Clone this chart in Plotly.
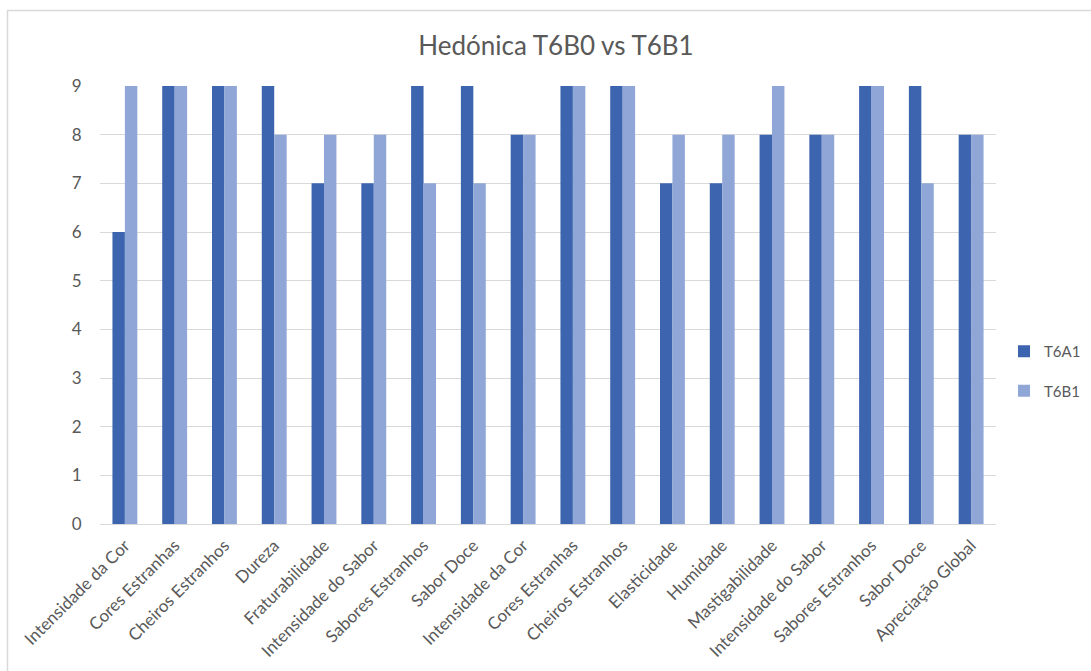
import plotly.graph_objects as go

categories = ["Intensidade da Cor", "Cores Estranhas", "Cheiros Estranhos", "Dureza",
              "Fraturabilidade", "Intensidade do Sabor", "Sabores Estranhos", "Sabor Doce",
              "Intensidade da Cor", "Cores Estranhas", "Cheiros Estranhos", "Elasticidade",
              "Humidade", "Mastigabilidade", "Intensidade do Sabor", "Sabores Estranhos",
              "Sabor Doce", "Apreciação Global"]
t6a1 = [6, 9, 9, 9, 7, 7, 9, 9, 8, 9, 9, 7, 7, 8, 8, 9, 9, 8]
t6b1 = [9, 9, 9, 8, 8, 8, 7, 7, 8, 9, 9, 8, 8, 9, 8, 9, 7, 8]
y_ticks = [0, 1, 2, 3, 4, 5, 6, 7, 8, 9]

xpos = list(range(len(categories)))
font_family = "Lato, 'Liberation Sans', sans-serif"
grey = "#595959"

fig = go.Figure()
fig.add_trace(go.Bar(x=xpos, y=t6a1, name="T6A1", legendgroup="a",
                     marker=dict(color="#3D64AE", line=dict(width=0))))
fig.add_trace(go.Bar(x=xpos, y=t6b1, name="T6B1", legendgroup="b",
                     marker=dict(color="#8FA6D6", line=dict(width=0))))

W, H = 1091, 671
L, R, T, B = 100, 1091 - 996, 86, 671 - 524
pw, ph = W - L - R, H - T - B

fig.update_layout(
    width=W, height=H,
    margin=dict(l=L, r=R, t=T, b=B, autoexpand=False),
    paper_bgcolor="white", plot_bgcolor="white",
    barmode="group", bargap=0.5, bargroupgap=0,
    title=dict(text="Hedónica T6B0 vs T6B1", x=(556 - L) / pw, xref="paper", xanchor="center",
               y=1 - 46 / H, yanchor="middle", yref="container",
               font=dict(family=font_family, size=26, color=grey)),
    font=dict(family=font_family, color=grey),
    legend=dict(x=(1004 - L) / pw, y=(524 - 371) / ph, xanchor="left", yanchor="middle",
                font=dict(size=15, color=grey), tracegroupgap=17, itemwidth=30),
    xaxis=dict(tickmode="array", tickvals=xpos, ticktext=categories, tickangle=-45,
               range=[-0.5, len(categories) - 0.5], showgrid=False, zeroline=False,
               showline=False, ticks="outside", ticklen=4, tickcolor="rgba(0,0,0,0)",
               tickfont=dict(size=17, color=grey)),
    yaxis=dict(range=[0, 9], tickvals=y_ticks, showgrid=True, gridcolor="#D9D9D9", gridwidth=1,
               zeroline=True, zerolinecolor="#D9D9D9", zerolinewidth=1, showline=False,
               ticks="outside", ticklen=14, tickcolor="rgba(0,0,0,0)",
               tickfont=dict(size=17, color=grey)),
    showlegend=True,
)

fig.add_shape(type="rect", xref="paper", yref="paper",
              x0=(7.5 - L) / pw, x1=(1100 - L) / pw,
              y0=(524 - 700) / ph, y1=(524 - 10.5) / ph,
              line=dict(color="#D9D9D9", width=1.5), fillcolor="rgba(0,0,0,0)", layer="below")

fig.write_html("out.html")
